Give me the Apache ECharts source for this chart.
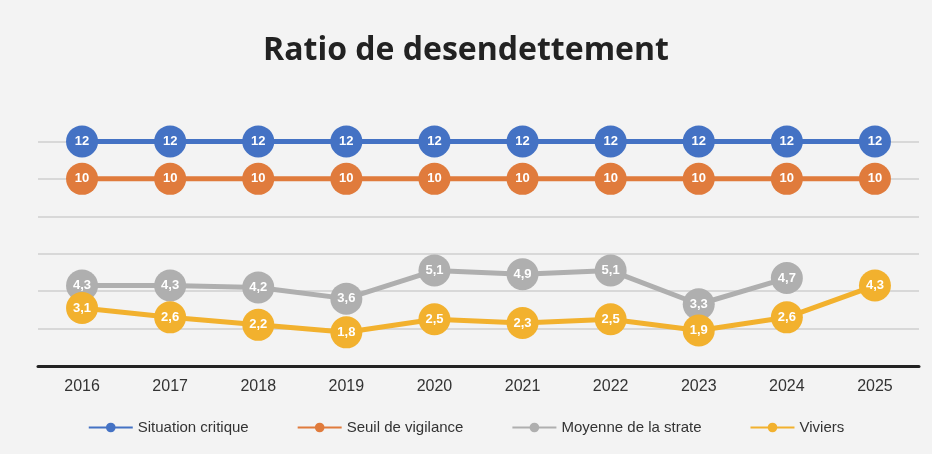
<!DOCTYPE html>
<html>
<head>
<meta charset="utf-8">
<script src="https://cdn.jsdelivr.net/npm/echarts@6/dist/echarts.min.js"></script>
<style>
  html, body { margin: 0; padding: 0; background: #f3f3f3; }
  .main { width: 932px; height: 454px; }
</style>
</head>
<body>
<div class="main"></div>
<script>
var years = ['2016','2017','2018','2019','2020','2021','2022','2023','2024','2025'];
var critique = [12,12,12,12,12,12,12,12,12,12];
var vigilance = [10,10,10,10,10,10,10,10,10,10];
var moyenne = [4.3,4.3,4.2,3.6,5.1,4.9,5.1,3.3,4.7,null];
var viviers = [3.1,2.6,2.2,1.8,2.5,2.3,2.5,1.9,2.6,4.3];

var myChart = echarts.init(document.querySelector('.main'));

function makeSeries(name, data, color){
  return {
    name: name,
    type: 'line',
    data: data,
    symbol: 'circle',
    symbolSize: 32,
    connectNulls: false,
    itemStyle: { color: color },
    lineStyle: { color: color, width: 5 },
    label: {
      show: true,
      position: 'inside',
      color: '#fff',
      fontSize: 13,
      fontWeight: 'bold',
      fontFamily: 'Liberation Sans',
      formatter: function(p){ return String(p.value).replace('.', ','); }
    }
  };
}

var option = {
  backgroundColor: '#f3f3f3',
  title: {
    text: 'Ratio de desendettement',
    left: 'center',
    top: 30,
    textStyle: { fontSize: 32, fontWeight: 'bold', color: '#222', fontFamily: 'Open Sans' }
  },
  legend: {
    bottom: 14,
    left: 'center',
    itemWidth: 44,
    itemHeight: 12,
    itemGap: 48,
    textStyle: { fontSize: 15, color: '#333', fontFamily: 'Liberation Sans' },
    data: ['Situation critique','Seuil de vigilance','Moyenne de la strate','Viviers']
  },
  grid: { left: 38, right: 13, top: 104, bottom: 88 },
  xAxis: {
    type: 'category',
    data: years,
    axisLine: { lineStyle: { color: '#222', width: 3 } },
    axisTick: { show: false },
    axisLabel: { fontSize: 16, color: '#333', margin: 13, fontFamily: 'Liberation Sans' }
  },
  yAxis: {
    type: 'value',
    min: 0,
    max: 14,
    interval: 2,
    axisLabel: { show: false },
    axisLine: { show: false },
    axisTick: { show: false },
    splitLine: { showMaxLine: false, lineStyle: { color: '#cfcfcf', width: 1.5 } }
  },
  series: [
    makeSeries('Situation critique', critique, '#4472C4'),
    makeSeries('Seuil de vigilance', vigilance, '#E07B3C'),
    makeSeries('Moyenne de la strate', moyenne, '#AFAFAF'),
    makeSeries('Viviers', viviers, '#F2B12E')
  ]
};
myChart.setOption(option);
</script>
</body>
</html>
